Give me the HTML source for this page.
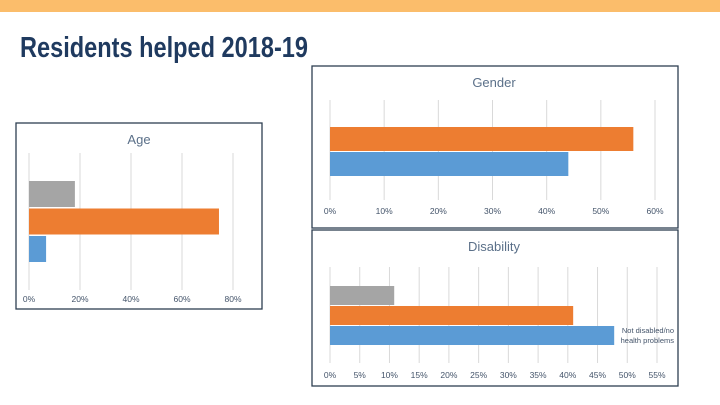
<!DOCTYPE html>
<html><head><meta charset="utf-8"><style>
html,body{margin:0;padding:0;background:#fff;width:720px;height:405px;overflow:hidden}
svg{display:block;font-family:"Liberation Sans",sans-serif}
</style></head><body>
<svg id="s" width="720" height="405" viewBox="0 0 720 405">
<rect x="0" y="0" width="720" height="12" fill="#fbbd6b"/>
<text x="20" y="57" font-size="29" font-weight="bold" fill="#1f3a5f" textLength="288" lengthAdjust="spacingAndGlyphs">Residents helped 2018-19</text>
<g id="charts"></g>
</svg>
<script>
// Gender chart data
const genderTicks = ['0%','10%','20%','30%','40%','50%','60%'];
const genderValues = [56, 44];
// Age chart data
const ageTicks = ['0%','20%','40%','60%','80%'];
const ageValues = [18, 74.5, 6.7];
// Disability chart data
const disTicks = ['0%','5%','10%','15%','20%','25%','30%','35%','40%','45%','50%','55%'];
const disValues = [10.8, 40.9, 47.8];

const NS='http://www.w3.org/2000/svg';
const root=document.getElementById('charts');
function mk(tag,attrs,parent){const e=document.createElementNS(NS,tag);for(const k in attrs)e.setAttribute(k,attrs[k]);(parent||root).appendChild(e);return e;}
const colors3=['#a5a5a5','#ed7d31','#5b9bd5'];
const colors2=['#ed7d31','#5b9bd5'];

function chart(cfg){
  const g=mk('g',{});
  
  
  const box=mk('rect',{x:cfg.bx,y:cfg.by,width:cfg.bw,height:cfg.bh,fill:'#fff',stroke:'#2e3f52','stroke-width':1.3},g);
  
  
  const t=mk('text',{x:cfg.tx,y:cfg.ty,'font-size':13,fill:'#5b7089','text-anchor':'middle'},g);
  t.textContent=cfg.title;
  
  
  const step=(cfg.x1-cfg.x0)/(cfg.ticks.length-1);
  const maxV=parseFloat(cfg.ticks[cfg.ticks.length-1]);
  const xs=v=>cfg.x0+v/maxV*(cfg.x1-cfg.x0);
  cfg.ticks.forEach((lab,i)=>{
    const x=cfg.x0+i*step;
    const l=mk('line',{x1:x,x2:x,y1:cfg.gy0,y2:cfg.gy1,stroke:'#d9d9d9','stroke-width':1},g);
    
    
    const tt=mk('text',{x:x,y:cfg.ly,'font-size':8.5,fill:'#44546a','text-anchor':'middle'},g);
    tt.textContent=lab;
    
    
  });
  cfg.values.forEach((v,i)=>{
    const r=mk('rect',{x:cfg.x0,y:cfg.barY+i*cfg.barStep,width:xs(v)-cfg.x0,height:cfg.barH,fill:cfg.colors[i]},g);
    
    
  });
  return {g,xs};
}

chart({name:'gender',bx:312,by:66,bw:366,bh:162,title:'Gender',tx:494,ty:87,x0:330,x1:655,ticks:genderTicks,gy0:100,gy1:200,ly:214,values:genderValues,barY:127,barStep:25,barH:24,colors:colors2});
chart({name:'age',bx:16,by:123,bw:246,bh:186,title:'Age',tx:139,ty:144,x0:29,x1:233,ticks:ageTicks,gy0:153,gy1:290,ly:302,values:ageValues,barY:181,barStep:27.5,barH:26,colors:colors3});
const d=chart({name:'disability',bx:312,by:230,bw:366,bh:156,title:'Disability',tx:494,ty:251,x0:330,x1:657,ticks:disTicks,gy0:267,gy1:363,ly:378,values:disValues,barY:286,barStep:20,barH:19,colors:colors3});
const lab=mk('text',{x:674,y:333,'font-size':7.5,fill:'#44546a','text-anchor':'end'},d.g);


const t1=mk('tspan',{x:674,dy:0},lab);t1.textContent='Not disabled/no';
const t2=mk('tspan',{x:674,dy:10},lab);t2.textContent='health problems';
</script>
</body></html>
